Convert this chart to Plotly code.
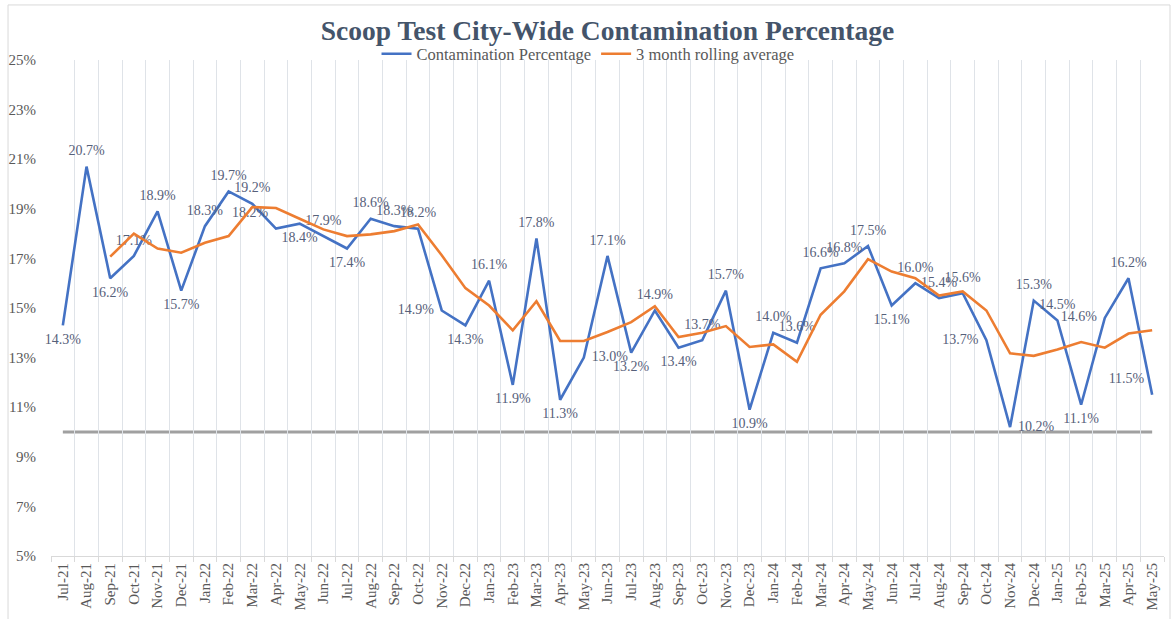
import plotly.graph_objects as go

months = ["Jul-21", "Aug-21", "Sep-21", "Oct-21", "Nov-21", "Dec-21",
          "Jan-22", "Feb-22", "Mar-22", "Apr-22", "May-22", "Jun-22",
          "Jul-22", "Aug-22", "Sep-22", "Oct-22", "Nov-22", "Dec-22",
          "Jan-23", "Feb-23", "Mar-23", "Apr-23", "May-23", "Jun-23",
          "Jul-23", "Aug-23", "Sep-23", "Oct-23", "Nov-23", "Dec-23",
          "Jan-24", "Feb-24", "Mar-24", "Apr-24", "May-24", "Jun-24",
          "Jul-24", "Aug-24", "Sep-24", "Oct-24", "Nov-24", "Dec-24",
          "Jan-25", "Feb-25", "Mar-25", "Apr-25", "May-25"]

contamination = [14.3, 20.7, 16.2, 17.1, 18.9, 15.7,
                 18.3, 19.7, 19.2, 18.2, 18.4, 17.9,
                 17.4, 18.6, 18.3, 18.2, 14.9, 14.3,
                 16.1, 11.9, 17.8, 11.3, 13.0, 17.1,
                 13.2, 14.9, 13.4, 13.7, 15.7, 10.9,
                 14.0, 13.6, 16.6, 16.8, 17.5, 15.1,
                 16.0, 15.4, 15.6, 13.7, 10.2, 15.3,
                 14.5, 11.1, 14.6, 16.2, 11.5]

rolling_avg = [None, None, 17.07, 18.0, 17.4, 17.23,
               17.63, 17.9, 19.07, 19.03, 18.6, 18.17,
               17.9, 17.97, 18.1, 18.37, 17.13, 15.8,
               15.1, 14.1, 15.27, 13.67, 13.67, 14.03,
               14.43, 15.07, 13.83, 14.0, 14.27, 13.43,
               13.53, 12.83, 14.73, 15.67, 16.97, 16.47,
               16.2, 15.5, 15.67, 14.9, 13.17, 13.07,
               13.33, 13.63, 13.4, 13.97, 14.1]

target = 10.0
y_ticks = [5, 7, 9, 11, 13, 15, 17, 19, 21, 23, 25]

label_pos = ["bottom center", "top center", "bottom center", "top center", "top center", "bottom center",
             "top center", "top center", "top center", "top left", "bottom center", "top center",
             "bottom center", "top center", "top center", "top center", "middle left", "bottom center",
             "top center", "bottom center", "top center", "bottom center", "middle right", "top center",
             "bottom center", "top center", "bottom center", "top center", "top center", "bottom center",
             "top center", "top center", "top center", "top center", "top center", "bottom center",
             "top center", "top center", "top center", "middle left", "middle right", "top center",
             "top center", "bottom center", "middle left", "top center", "top left"]

FONT = "Liberation Serif"
TXT = "#595959"
LBL = "#56607A"

fig = go.Figure()

fig.add_trace(go.Scatter(
    x=months, y=contamination, name="Contamination Percentage",
    mode="lines+markers+text",
    line=dict(color="#4472C4", width=2.6),
    marker=dict(size=11, color="rgba(0,0,0,0)", line=dict(width=0)),
    text=[f"{v:.1f}%" for v in contamination],
    textposition=label_pos,
    textfont=dict(family=FONT, size=14, color=LBL),
    cliponaxis=False,
))

fig.add_trace(go.Scatter(
    x=months, y=rolling_avg, name="3 month rolling average",
    mode="lines",
    line=dict(color="#ED7D31", width=2.6),
))

fig.add_shape(type="line", xref="x", yref="y",
              x0=months[0], x1=months[-1], y0=target, y1=target,
              line=dict(color="#A0A0A0", width=3), layer="below")

# chart outer border
fig.add_shape(type="rect", xref="paper", yref="paper",
              x0=-0.0386, x1=1.0054, y0=-0.14, y1=1.111,
              line=dict(color="#D9D9D9", width=1), fillcolor="rgba(0,0,0,0)")

fig.update_layout(
    width=1173, height=619,
    paper_bgcolor="white", plot_bgcolor="white",
    margin=dict(l=51, r=9, t=60, b=63, autoexpand=False),
    title=dict(text="<b>Scoop Test City-Wide Contamination Percentage</b>",
               font=dict(family=FONT, size=27.5, color="#44546A"),
               x=0.5, xanchor="center", xref="paper",
               y=1 - 30 / 619, yanchor="middle", yref="container"),
    legend=dict(orientation="h", x=0.4825, xanchor="center",
                y=1.012, yanchor="middle",
                font=dict(family=FONT, size=16.5, color=TXT),
                itemwidth=30, tracegroupgap=0,
                bgcolor="rgba(0,0,0,0)"),
    showlegend=True,
    xaxis=dict(
        type="category",
        tickson="boundaries",
        showgrid=True, gridcolor="#DFE3E8", gridwidth=1,
        ticks="outside", ticklen=5, tickcolor="#D9D9D9",
        showline=True, linecolor="#D9D9D9", linewidth=1,
        tickangle=-90,
        tickfont=dict(family=FONT, size=15, color=TXT),
        range=[-0.5, len(months) - 0.5],
        fixedrange=True,
    ),
    yaxis=dict(
        range=[5, 25],
        tickvals=y_ticks,
        ticktext=[f"{t}%" for t in y_ticks],
        showgrid=False, zeroline=False, showline=False,
        tickfont=dict(family=FONT, size=15, color=TXT),
        ticklabelstandoff=14,
        fixedrange=True,
    ),
)

fig.write_html("out.html", config={"displayModeBar": False},
               post_script="document.body.style.margin='0';document.body.style.overflow='hidden';")
